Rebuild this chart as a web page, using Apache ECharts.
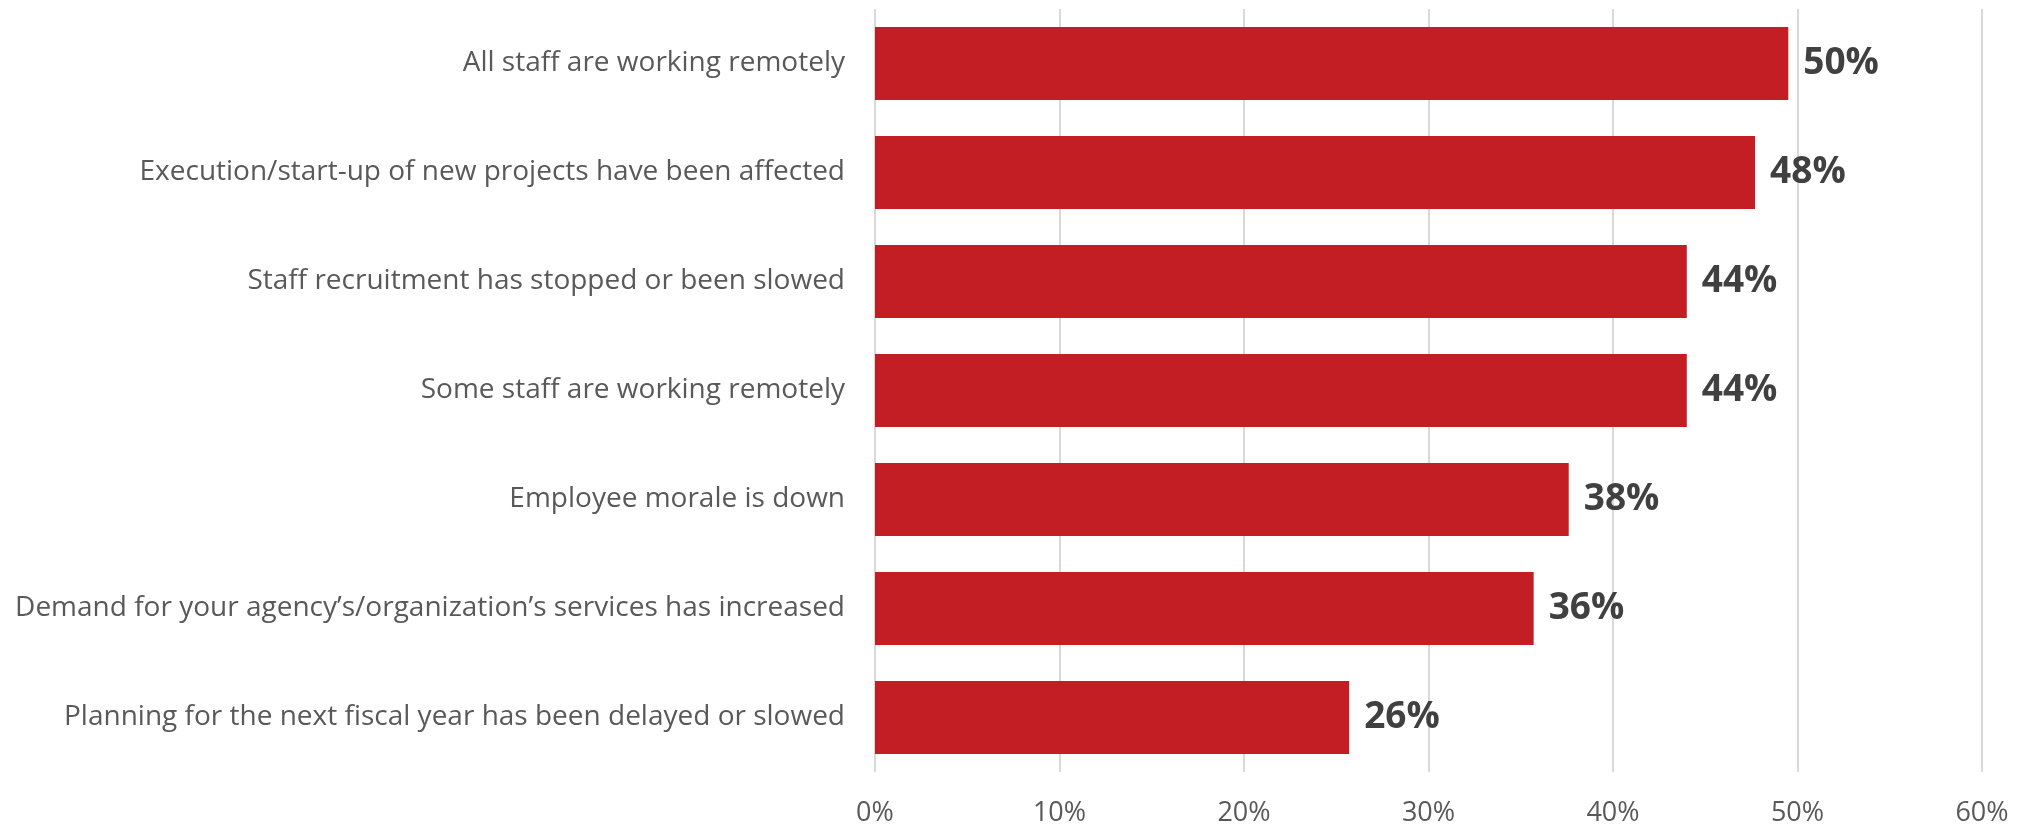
<!DOCTYPE html>
<html>
<head>
<meta charset="utf-8">
<script src="https://cdn.jsdelivr.net/npm/echarts@6/dist/echarts.min.js"></script>
<style>
html,body{margin:0;padding:0;background:#fff;}
#chart{width:2037px;height:827px;}
</style>
</head>
<body>
<div id="chart"></div>
<script>
const categories = [
  "All staff are working remotely",
  "Execution/start-up of new projects have been affected",
  "Staff recruitment has stopped or been slowed",
  "Some staff are working remotely",
  "Employee morale is down",
  "Demand for your agency’s/organization’s services has increased",
  "Planning for the next fiscal year has been delayed or slowed"
];
const values = [49.5, 47.7, 44.0, 44.0, 37.6, 35.7, 25.7];
const tickLabels = ["0%", "10%", "20%", "30%", "40%", "50%", "60%"];

const chart = echarts.init(document.getElementById('chart'), null, {renderer: 'canvas'});
chart.setOption({
  animation: false,
  grid: {left: 875, right: 55, top: 9, bottom: 55, containLabel: false},
  xAxis: {
    type: 'value', min: 0, max: 60, interval: 10,
    axisLine: {show: false}, axisTick: {show: false},
    splitLine: {show: true, lineStyle: {color: '#d9d9d9', width: 2}},
    axisLabel: {
      formatter: function (v) { return tickLabels[Math.round(v / 10)]; },
      color: '#595959', fontFamily: 'Open Sans', fontSize: 27, margin: 28
    }
  },
  yAxis: {
    type: 'category', data: categories, inverse: true,
    axisLine: {show: false}, axisTick: {show: false},
    axisLabel: {color: '#595959', fontFamily: 'Open Sans', fontSize: 28, margin: 30}
  },
  series: [{
    type: 'bar', data: values, barCategoryGap: '33%',
    itemStyle: {color: '#C41E25'},
    label: {
      show: true, position: 'right', distance: 15,
      formatter: function (p) { return Math.round(p.value) + '%'; },
      color: '#404040', fontFamily: 'Open Sans', fontWeight: 'bold', fontSize: 37
    }
  }]
});
</script>
</body>
</html>
